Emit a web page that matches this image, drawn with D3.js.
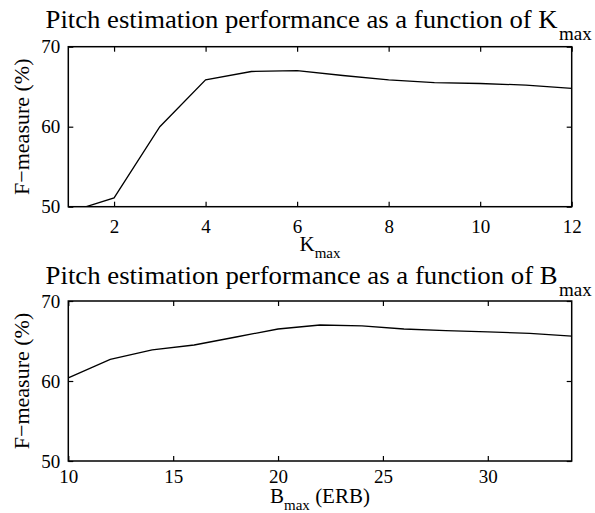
<!DOCTYPE html>
<html>
<head>
<meta charset="utf-8">
<script src="https://cdn.jsdelivr.net/npm/d3@7"></script>
<style>
  body { margin: 0; background: #fff; }
  svg text { font-family: "Liberation Serif", "Times New Roman", serif; fill: #000; }
</style>
</head>
<body>
<div id="chart"></div>
<script>
// Top panel: performance vs K_max
const kValues = [1, 2, 3, 4, 5, 6, 7, 8, 9, 10, 11, 12];
const kScores = [49.3, 51.1, 60.0, 65.85, 66.9, 67.0, 66.4, 65.85, 65.5, 65.4, 65.2, 64.8];
const kTicks = [2, 4, 6, 8, 10, 12];

// Bottom panel: performance vs B_max
const bValues = [10, 12, 14, 16, 18, 20, 22, 24, 26, 28, 30, 32, 34];
const bScores = [60.4, 62.7, 63.9, 64.5, 65.5, 66.5, 67.0, 66.9, 66.5, 66.3, 66.15, 65.95, 65.6];
const bTicks = [10, 15, 20, 25, 30];

const yTicks = [50, 60, 70];

const width = 595, height = 513;
const serif = '"Liberation Serif", "Times New Roman", serif';
const plotLeft = 68.3, plotRight = 571.7;

const svg = d3.select('#chart').append('svg')
    .attr('width', width)
    .attr('height', height);

const defs = svg.append('defs');

const drawPanel = (opts) => {
    const { top, bottom, xDomain, xs, ys, xTicks, id, pad } = opts;
    const x = d3.scaleLinear().domain(xDomain).range([plotLeft, plotRight]);
    const y = d3.scaleLinear().domain([50, 70]).range([bottom, top]);

    defs.append('clipPath').attr('id', id)
        .append('rect')
        .attr('x', plotLeft).attr('y', top)
        .attr('width', plotRight - plotLeft).attr('height', bottom - top);

    const g = svg.append('g');

    // data line
    const line = d3.line().x((d, i) => x(xs[i])).y(d => y(d));
    g.append('path')
        .attr('clip-path', `url(#${id})`)
        .attr('d', line(ys))
        .attr('fill', 'none')
        .attr('stroke', '#000')
        .attr('stroke-width', 1.3);

    // inward ticks on all four sides (matlab style)
    const tl = 5;
    g.append('g').attr('transform', `translate(0,${bottom})`)
        .call(d3.axisBottom(x).tickValues(xTicks).tickSizeInner(-tl).tickSizeOuter(0).tickPadding(pad))
        .call(a => a.select('.domain').remove());
    g.append('g').attr('transform', `translate(0,${top})`)
        .call(d3.axisTop(x).tickValues(xTicks).tickSizeInner(-tl).tickSizeOuter(0).tickFormat(''))
        .call(a => a.select('.domain').remove());
    g.append('g').attr('transform', `translate(${plotLeft},0)`)
        .call(d3.axisLeft(y).tickValues(yTicks).tickSizeInner(-tl).tickSizeOuter(0).tickPadding(8))
        .call(a => a.select('.domain').remove());
    g.append('g').attr('transform', `translate(${plotRight},0)`)
        .call(d3.axisRight(y).tickValues(yTicks).tickSizeInner(-tl).tickSizeOuter(0).tickFormat(''))
        .call(a => a.select('.domain').remove());

    g.selectAll('g').attr('font-family', serif).attr('font-size', 19);
    g.selectAll('.tick line').attr('stroke', '#000').attr('stroke-width', 1.2);
    g.selectAll('.tick text')
        .attr('fill', '#000')
        .style('font-family', serif)
        .style('font-size', '19px');

    // frame
    g.append('rect')
        .attr('x', plotLeft).attr('y', top)
        .attr('width', plotRight - plotLeft).attr('height', bottom - top)
        .attr('fill', 'none')
        .attr('stroke', '#000')
        .attr('stroke-width', 1.5);

    // y label
    g.append('text')
        .attr('transform', `translate(29,${(top + bottom) / 2}) rotate(-90)`)
        .attr('text-anchor', 'middle')
        .style('font-size', '22px')
        .text('F\u2212measure (%)');
};

drawPanel({ id: 'clipK', top: 46.7, bottom: 206.7, pad: 13,
    xDomain: [1, 12], xs: kValues, ys: kScores, xTicks: kTicks });
drawPanel({ id: 'clipB', top: 301, bottom: 461, pad: 9,
    xDomain: [10, 34], xs: bValues, ys: bScores, xTicks: bTicks });

// titles with subscripts
const title = (yPos, main) => {
    svg.append('text')
        .attr('x', 45.6).attr('y', yPos)
        .attr('textLength', 512)
        .attr('lengthAdjust', 'spacingAndGlyphs')
        .style('font-size', '25px')
        .text(main);
    svg.append('text')
        .attr('x', 559).attr('y', yPos + 12)
        .style('font-size', '19px')
        .text('max');
};
title(28.3, 'Pitch estimation performance as a function of K');
title(284, 'Pitch estimation performance as a function of B');

// x labels
const xl1 = svg.append('text')
    .attr('x', (plotLeft + plotRight) / 2).attr('y', 251)
    .attr('text-anchor', 'middle')
    .style('font-size', '21px');
xl1.append('tspan').text('K');
xl1.append('tspan').attr('dy', 7).style('font-size', '15px').text('max');

const xl2 = svg.append('text')
    .attr('x', (plotLeft + plotRight) / 2).attr('y', 503)
    .attr('text-anchor', 'middle')
    .style('font-size', '21px');
xl2.append('tspan').text('B');
xl2.append('tspan').attr('dy', 7).style('font-size', '15px').text('max');
xl2.append('tspan').attr('dy', -7).text(' (ERB)');
</script>
</body>
</html>
